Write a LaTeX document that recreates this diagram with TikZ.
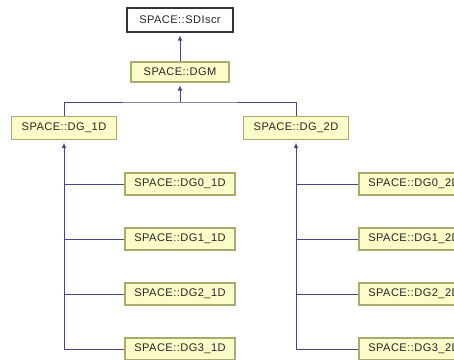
\documentclass[tikz,border=0pt]{standalone}
\usepackage{fontspec}
\setmainfont{Liberation Sans}[LetterSpace=4]
\usetikzlibrary{arrows.meta}
\definecolor{boxfill}{RGB}{252,252,200}
\definecolor{boxline}{RGB}{170,170,110}
\definecolor{linkcol}{RGB}{70,70,135}
\tikzset{
  cls/.style={draw=boxline, fill=boxfill, line width=0.8pt, inner sep=0pt,
    font=\fontsize{8.3}{10}\selectfont, text=black!85},
  top/.style={cls, draw=black!80, fill=white},
  link/.style={draw=linkcol, line width=0.7pt},
  inh/.style={link, -{Latex[length=4pt,width=3.5pt]}, shorten >=2pt}
}
\begin{document}
\begin{tikzpicture}[x=0.75pt, y=-0.75pt]
\clip (0,0) rectangle (454,360);
\fill[white] (0,0) rectangle (454,360);
% upper part
\node[top, minimum width=106*0.75pt, minimum height=24*0.75pt] (sdiscr) at (180,20) {SPACE::SDIscr};
\node[cls, minimum width=98*0.75pt, minimum height=20*0.75pt] (dgm) at (180,72) {SPACE::DGM};
\node[cls, minimum width=105*0.75pt, minimum height=23*0.75pt] (dg1d) at (64,128) {SPACE::DG\_1D};
\node[cls, minimum width=105*0.75pt, minimum height=23*0.75pt] (dg2d) at (296,128) {SPACE::DG\_2D};
\draw[inh] (dgm) -- (sdiscr);
\coordinate (bus) at (180,102);
\draw[link] (dg1d.north) |- (bus) -| (dg2d.north);
\draw[inh] (bus) -- (dgm);
% children
\foreach \i/\y in {0/184,1/239,2/294,3/349}{
  \node[cls, minimum width=110*0.75pt, minimum height=22*0.75pt] (a\i) at (180,\y) {SPACE::DG\i\_1D};
  \node[cls, minimum width=110*0.75pt, minimum height=22*0.75pt] (b\i) at (414,\y) {SPACE::DG\i\_2D};
  \draw[link] (dg1d.south |- a\i.west) -- (a\i.west);
  \draw[link] (dg2d.south |- b\i.west) -- (b\i.west);
}
\draw[inh] (dg1d.south |- a3.west) -- (dg1d);
\draw[inh] (dg2d.south |- b3.west) -- (dg2d);
\end{tikzpicture}
\end{document}
